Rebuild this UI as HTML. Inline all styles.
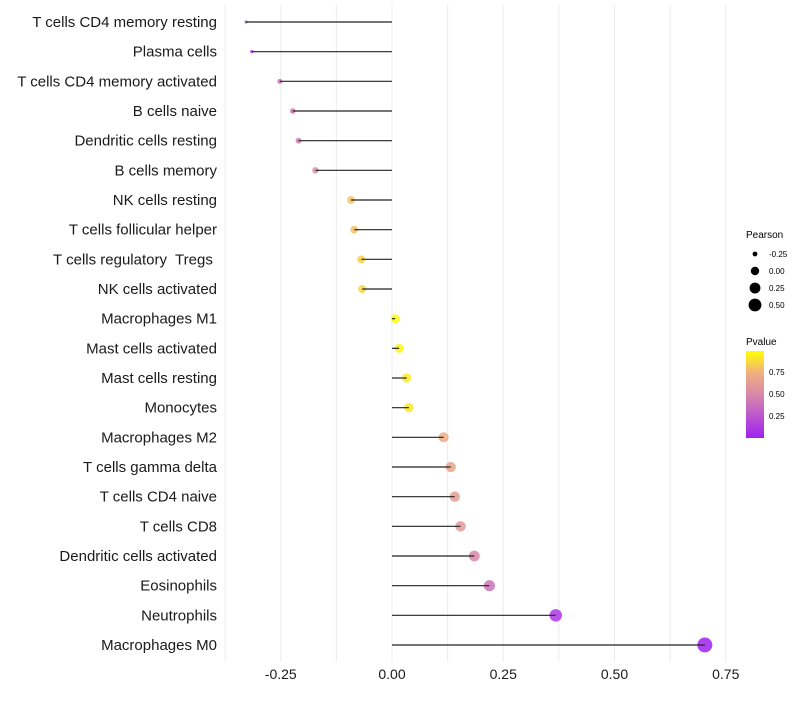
<!DOCTYPE html>
<html><head><meta charset="utf-8"><style>
body{margin:0;background:#fff;font-family:"Liberation Sans",sans-serif;}
</style></head><body>
<svg id="chart" width="800" height="700" xmlns="http://www.w3.org/2000/svg" font-family="Liberation Sans, sans-serif">
<defs><linearGradient id="pgrad" x1="0" y1="1" x2="0" y2="0">
<stop offset="0" stop-color="#a020f0"/><stop offset="0.3" stop-color="#c060c8"/><stop offset="0.5" stop-color="#d888a8"/><stop offset="0.75" stop-color="#f0b080"/><stop offset="1" stop-color="#ffff00"/>
</linearGradient></defs>
<g id="grid"></g>
<g id="marks"></g>
<g id="ylabels"></g>
<g id="xlabels"></g>
<g>
<text x="746" y="238" font-size="10" fill="#000">Pearson</text>
<g id="sizeleg"></g>
</g>
<g>
<text x="746" y="345" font-size="10" fill="#000">Pvalue</text>
<rect x="746" y="351" width="18" height="87" fill="url(#pgrad)"/>
<text x="769" y="375" font-size="8">0.75</text>
<text x="769" y="397" font-size="8">0.50</text>
<text x="769" y="419" font-size="8">0.25</text>
</g>
</svg>
<script>
const categories=["T cells CD4 memory resting","Plasma cells","T cells CD4 memory activated","B cells naive","Dendritic cells resting","B cells memory","NK cells resting","T cells follicular helper","T cells regulatory\u00a0 Tregs\u00a0","NK cells activated","Macrophages M1","Mast cells activated","Mast cells resting","Monocytes","Macrophages M2","T cells gamma delta","T cells CD4 naive","T cells CD8","Dendritic cells activated","Eosinophils","Neutrophils","Macrophages M0"];
const pearson=[-0.328,-0.315,-0.252,-0.223,-0.21,-0.172,-0.092,-0.085,-0.069,-0.067,0.007,0.016,0.033,0.038,0.116,0.132,0.141,0.154,0.185,0.219,0.368,0.703];
const pvalue=[0.22,0.22,0.4,0.42,0.45,0.55,0.8,0.8,0.85,0.86,0.98,0.96,0.93,0.92,0.72,0.68,0.64,0.6,0.5,0.42,0.12,0.02];
const xTicks=[-0.25,0,0.25,0.5,0.75];
const xTickLabels=["-0.25","0.00","0.25","0.50","0.75"];
const sizeLegend=[-0.25,0,0.25,0.5];
const sizeLegendLabels=["-0.25","0.00","0.25","0.50"];
const NS="http://www.w3.org/2000/svg";
const x=v=>392+v*445;
const y=i=>22+i*(623/(categories.length-1));
const r=v=>Math.sqrt(Math.max(1.5,19.5+52.2*v));
const stops=[[0,[160,32,240]],[0.3,[192,96,200]],[0.5,[216,136,168]],[0.75,[240,176,128]],[1,[255,255,0]]];
function col(p){p=Math.max(0,Math.min(1,(p-0.02)/0.97));for(let k=1;k<stops.length;k++){if(p<=stops[k][0]){const a=stops[k-1],b=stops[k],t=(p-a[0])/(b[0]-a[0]);return "rgb("+a[1].map((c,j)=>Math.round(c+(b[1][j]-c)*t)).join(",")+")";}}return "rgb(255,255,0)";}
function mk(t,a,parent){const e=document.createElementNS(NS,t);for(const k in a)e.setAttribute(k,a[k]);parent.appendChild(e);return e;}
const grid=document.getElementById('grid');
for(let g=-0.375;g<=0.76;g+=0.125){const l=mk('line',{x1:x(g),x2:x(g),y1:5,y2:662,stroke:'#ebebeb','stroke-width':1},grid);

}
const marks=document.getElementById('marks'),yl=document.getElementById('ylabels'),xl=document.getElementById('xlabels');
categories.forEach((c,i)=>{
const pt=mk('circle',{cx:x(pearson[i]),cy:y(i),r:r(pearson[i]),fill:col(pvalue[i]),'fill-opacity':0.85},marks);


const ln=mk('line',{x1:x(0),x2:x(pearson[i]),y1:y(i),y2:y(i),stroke:'#222','stroke-width':1.2},marks);


const t=mk('text',{x:217,y:y(i)+5,'text-anchor':'end','font-size':15,fill:'#1a1a1a'},yl);
t.textContent=c;


});
xTicks.forEach((v,i)=>{const t=mk('text',{x:x(v),y:679,'text-anchor':'middle','font-size':14,fill:'#1a1a1a'},xl);
t.textContent=xTickLabels[i];

});
const sl=document.getElementById('sizeleg');
sizeLegend.forEach((v,i)=>{const cy=254+i*17;
const c=mk('circle',{cx:755,cy:cy,r:r(v)*0.95,fill:'#000'},sl);


const t=mk('text',{x:769,y:cy+3,'font-size':8},sl);t.textContent=sizeLegendLabels[i];

});
</script>
</body></html>
